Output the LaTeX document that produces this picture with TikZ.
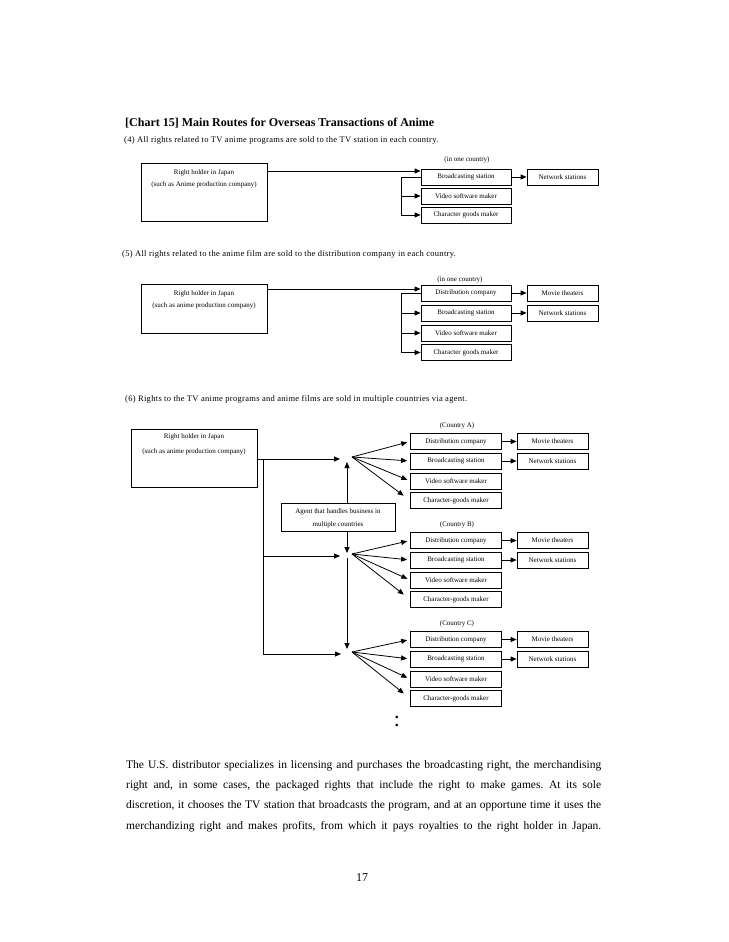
\documentclass[tikz,border=0pt]{standalone}
\usepackage{fontspec}
\setmainfont{Liberation Serif}
\newfontfamily\spacedserif[LetterSpace=3.5]{Liberation Serif}
\usetikzlibrary{arrows.meta,calc}
\begin{document}
\begin{tikzpicture}[x=1pt,y=-1pt,
  bx/.style={draw, line width=0.8pt, minimum height=16, inner sep=0pt, font=\fontsize{7}{8}\selectfont},
  wb/.style={bx, minimum width=90},
  nb/.style={bx, minimum width=71},
  rb/.style={draw, line width=0.8pt, inner sep=0pt},
  lbl/.style={inner sep=0pt, font=\fontsize{7}{8}\selectfont},
  sub/.style={inner sep=0pt, anchor=west, font=\spacedserif\fontsize{8.5}{9}\selectfont},
  par/.style={inner sep=0pt, anchor=west, font=\fontsize{11.5}{14}\selectfont\frenchspacing},
  arr/.style={line width=0.8pt, -{Triangle[length=6pt,width=5pt]}},
  ln/.style={line width=0.8pt},
]
\useasboundingbox (0,0) rectangle (728,942);
\fill[white] (0,0) rectangle (728,942);

\node[inner sep=0pt, anchor=west, font=\bfseries\fontsize{12}{13}\selectfont] (title) at (125,123) {[Chart 15] Main Routes for Overseas Transactions of Anime};

% ---------- (4)
\node[sub] (s4) at (124,140) {(4) All rights related to TV anime programs are sold to the TV station in each country.};
\node[lbl] (c4) at (467,160) {(in one country)};
\node[rb, minimum width=126, minimum height=58] (rh4) at (204,192) {};
\node[lbl] (rh4a) at (204,173) {Right holder in Japan};
\node[lbl] (rh4b) at (204,185) {(such as Anime production company)};
\node[wb] (b4) at (466,177) {Broadcasting station};
\node[wb] (v4) at (466,196) {Video software maker};
\node[wb] (ch4) at (466,215) {Character goods maker};
\node[nb] (n4) at (562.5,177) {Network stations};
\draw[arr] (rh4.east |- 0,171) -- (b4.west |- 0,171);
\draw[arr] (b4.west) -- (b4.west -| 401,0) |- (ch4.west);
\draw[arr] (v4.west -| 401,0) -- (v4.west);
\draw[arr] (b4) -- (n4);

% ---------- (5)
\node[sub] (s5) at (122,254) {(5) All rights related to the anime film are sold to the distribution company in each country.};
\node[lbl] (c5) at (460,280) {(in one country)};
\node[rb, minimum width=126, minimum height=49] (rh5) at (204,308.5) {};
\node[lbl] (rh5a) at (204,294) {Right holder in Japan};
\node[lbl] (rh5b) at (204,306) {(such as anime production company)};
\node[wb] (d5) at (466,293) {Distribution company};
\node[wb] (b5) at (466,313) {Broadcasting station};
\node[wb] (v5) at (466,333) {Video software maker};
\node[wb] (ch5) at (466,352.5) {Character goods maker};
\node[nb] (m5) at (562.5,293) {Movie theaters};
\node[nb] (n5) at (562.5,313) {Network stations};
\draw[arr] (rh5.east |- 0,289) -- (d5.west |- 0,289);
\draw[arr] (d5.west) -- (d5.west -| 401,0) |- (ch5.west);
\draw[arr] (b5.west -| 401,0) -- (b5.west);
\draw[arr] (v5.west -| 401,0) -- (v5.west);
\draw[arr] (d5) -- (m5);
\draw[arr] (b5) -- (n5);

% ---------- (6)
\node[sub] (s6) at (125,399) {(6) Rights to the TV anime programs and anime films are sold in multiple countries via agent.};
\node[rb, minimum width=126, minimum height=58] (rh6) at (194,458) {};
\node[lbl] (rh6a) at (194,437) {Right holder in Japan};
\node[lbl] (rh6b) at (194,452) {(such as anime production company)};
\node[rb, minimum width=114, minimum height=28] (ag) at (338,517) {};
\node[lbl] (aga) at (338,512) {Agent that handles business in};
\node[lbl] (agb) at (338,525) {multiple countries};

\coordinate (ja) at (347,459);
\coordinate (jb) at (347,556);
\coordinate (jc) at (347,654);
\coordinate (v6) at (263,459);

\draw[ln] (rh6.east |- ja) -- (v6);
\draw[arr, shorten >=7pt] (v6) -- (ja);
\draw[arr, shorten >=6pt] (v6) |- (jc);
\draw[arr, shorten >=7pt] (v6 |- jb) -- (jb);
\draw[arr, shorten >=3pt] (ag.north -| ja) -- (ja);
\draw[arr, shorten >=3pt] (ag.south -| jb) -- (jb);
\draw[arr, shorten >=5pt, shorten <=2pt] (jb) -- (jc);

\foreach \c/\j/\y in {A/ja/0, B/jb/99, C/jc/198}{
  \node[lbl] (cty\c) at (457,426+\y) {(Country \c)};
  \node[wb, minimum width=91] (d\c) at (456,441.5+\y) {Distribution company};
  \node[wb, minimum width=91] (b\c) at (456,461+\y) {Broadcasting station};
  \node[wb, minimum width=91] (v\c) at (456,481+\y) {Video software maker};
  \node[wb, minimum width=91] (ch\c) at (456,500.5+\y) {Character-goods maker};
  \node[nb] (m\c) at (552.5,441.5+\y) {Movie theaters};
  \node[nb] (n\c) at (552.5,461+\y) {Network stations};
  \coordinate (f\c) at ($(\j)+(5,-2)$);
  \draw[arr, shorten >=3pt] (f\c) -- (d\c.west);
  \draw[arr, shorten >=3pt] (f\c) -- (b\c.west);
  \draw[arr, shorten >=3pt] (f\c) -- (v\c.west);
  \draw[arr, shorten >=8pt] (f\c) -- (ch\c.west);
  \draw[arr] (d\c) -- (m\c);
  \draw[arr] (b\c) -- (n\c);
}
\node[inner sep=0pt, font=\fontsize{22}{22}\selectfont] (dots) at (397,721) {:};

% ---------- paragraph
\node[par] (p1) at (126,766) {\makebox[475pt][s]{The U.S. distributor specializes in licensing and purchases the broadcasting right, the merchandising}};
\node[par] (p2) at (126,786) {\makebox[475pt][s]{right and, in some cases, the packaged rights that include the right to make games. At its sole}};
\node[par] (p3) at (126,806) {\makebox[475pt][s]{discretion, it chooses the TV station that broadcasts the program, and at an opportune time it uses the}};
\node[par] (p4) at (126,827) {\makebox[475pt][s]{merchandizing right and makes profits, from which it pays royalties to the right holder in Japan.}};
\node[inner sep=0pt, font=\fontsize{12}{14}\selectfont] (pg) at (362,878) {17};
\end{tikzpicture}
\end{document}
